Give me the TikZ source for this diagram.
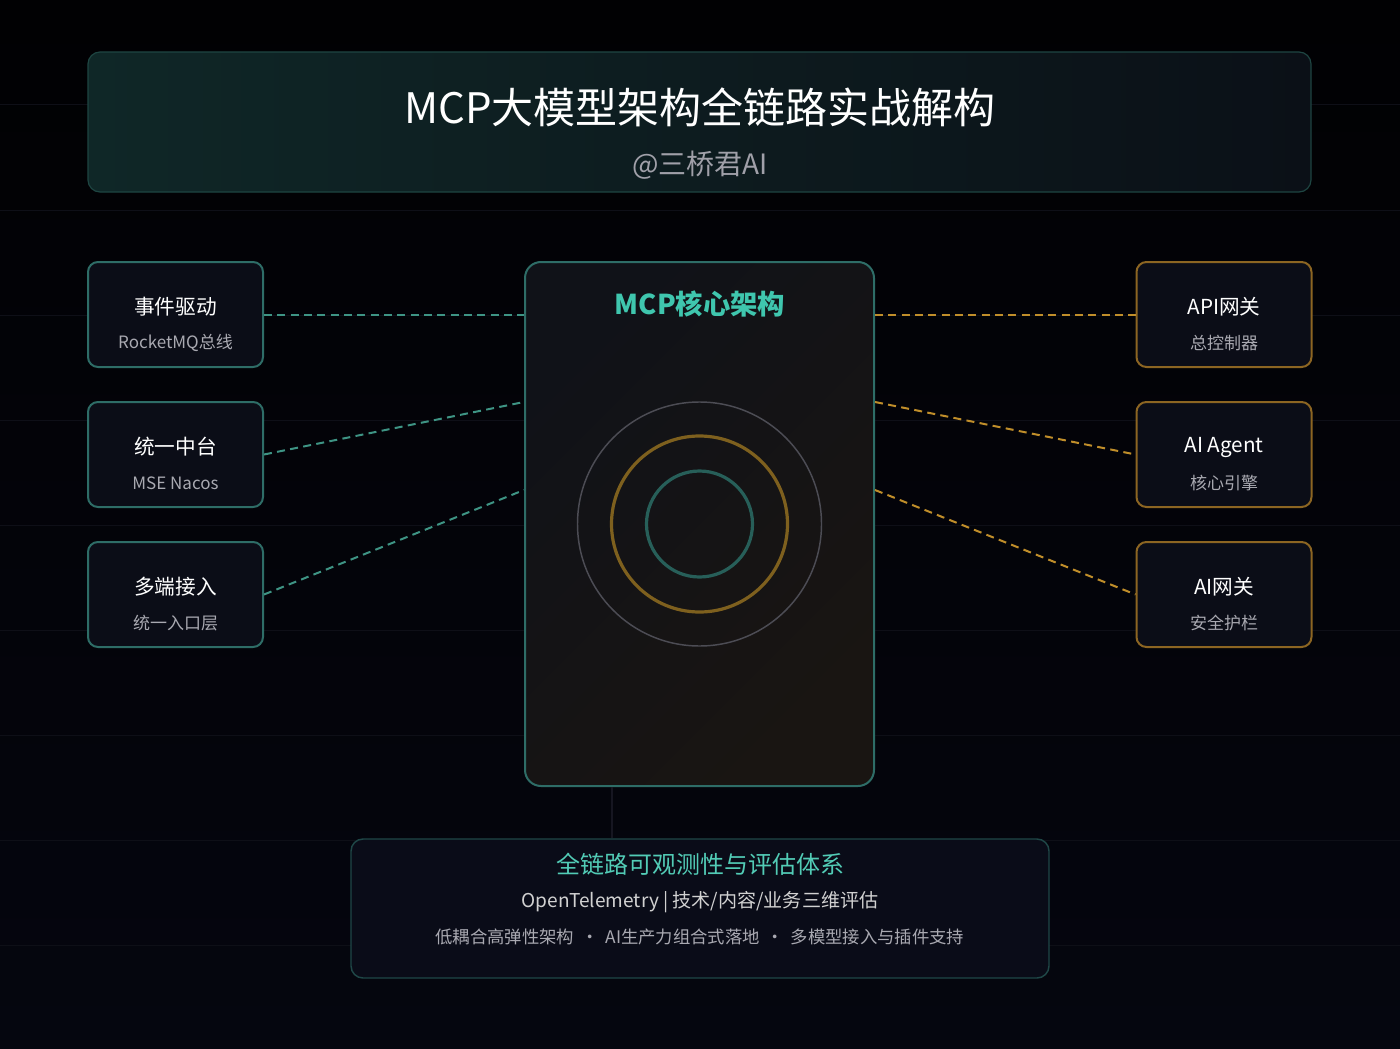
\documentclass[tikz,border=0pt]{standalone}
\usepackage{fontspec}
\setmainfont{Noto Sans CJK SC}
\usetikzlibrary{positioning,calc}
\definecolor{bgtop}{HTML}{010103}
\definecolor{bgbot}{HTML}{05060F}
\definecolor{gridc}{HTML}{0E0F17}
\definecolor{headL}{HTML}{0F2727}
\definecolor{headR}{HTML}{0B1017}
\definecolor{headline}{HTML}{1E4542}
\definecolor{boxfill}{HTML}{0B0D17}
\definecolor{tealline}{HTML}{2E6D67}
\definecolor{tealdashc}{HTML}{3E9484}
\definecolor{amberline}{HTML}{8C6522}
\definecolor{amberdashc}{HTML}{C08E2A}
\definecolor{coreA}{HTML}{101218}
\definecolor{coreB}{HTML}{191512}
\definecolor{coretxt}{HTML}{3FC6AE}
\definecolor{ringgrey}{HTML}{4C4C54}
\definecolor{ringamber}{HTML}{7E601E}
\definecolor{ringteal}{HTML}{275F59}
\definecolor{subgrey}{HTML}{A9A9B1}
\definecolor{obsline}{HTML}{1F4747}
\definecolor{obsfill}{HTML}{0A0C18}
\begin{document}
\begin{tikzpicture}[x=0.75pt,y=-0.75pt,
    sidebox/.style={draw,line width=1.5pt,rounded corners=7.5pt,fill=boxfill,minimum width=131.25pt,minimum height=78.75pt},
    boxtitle/.style={inner sep=0pt,text=white,font=\fontsize{15.5}{18}\selectfont},
    boxsub/.style={inner sep=0pt,text=subgrey,font=\fontsize{12.75}{15}\selectfont},
    tealdash/.style={tealdashc,line width=1.5pt,dash pattern=on 6pt off 4pt},
    amberdash/.style={amberdashc,line width=1.5pt,dash pattern=on 6pt off 4pt}]
    \useasboundingbox (0,0) rectangle (1400,1049);
    \shade[top color=bgtop,bottom color=bgbot] (0,0) rectangle (1400,1049);
    \foreach \y in {105,210,...,945} \draw[gridc,line width=0.75pt] (0,\y) -- (1400,\y);
    % header
    \node[draw=headline,line width=0.9pt,rounded corners=9pt,left color=headL,right color=headR,minimum width=917.25pt,minimum height=105pt](head)at(699.5,122){};
    \node[inner sep=0pt,text=white,font=\fontsize{31.5}{36}\selectfont](title)at(700,107){MCP大模型架构全链路实战解构};
    \node[inner sep=0pt,text=subgrey!110,font=\fontsize{21}{24}\selectfont](author)at(700,165){@三桥君AI};
    % core
    \node[draw=tealline,line width=1.5pt,rounded corners=12pt,top color=coreA,bottom color=coreB,shading angle=45,minimum width=261.75pt,minimum height=393pt](core)at(699.5,524){};
    \node[inner sep=0pt,text=coretxt,font=\bfseries\fontsize{20.5}{24}\selectfont](coretitle)at(700,304){MCP核心架构};
    \draw[ringgrey,line width=1.1pt] (core.center) circle[radius=91.5pt];
    \draw[ringamber,line width=2.4pt] (core.center) circle[radius=66pt];
    \draw[ringteal,line width=2.4pt] (core.center) circle[radius=39.75pt];
    % side boxes
    \foreach \n/\y/\t/\s in {evt/314.5/事件驱动/RocketMQ总线,hub/454.5/统一中台/MSE Nacos,acc/594.5/多端接入/统一入口层}{
        \node[sidebox,draw=tealline](\n)at(175.5,\y){};
        \node[boxtitle](\n-t)at([yshift=5.6pt]\n.center){\t};
        \node[boxsub](\n-s)at([yshift=-21.4pt]\n.center){\s};
    }
    \foreach \n/\y/\t/\s in {api/314.5/API网关/总控制器,agt/454.5/AI Agent/核心引擎,aig/594.5/AI网关/安全护栏}{
        \node[sidebox,draw=amberline](\n)at(1224,\y){};
        \node[boxtitle](\n-t)at([yshift=5.6pt]\n.center){\t};
        \node[boxsub](\n-s)at([yshift=-21.4pt]\n.center){\s};
    }
    \draw[tealdash](evt.east)--(evt.east-|core.west);
    \draw[tealdash](hub.east)--([yshift=91.5pt]core.west);
    \draw[tealdash](acc.east)--([yshift=25.5pt]core.west);
    \draw[amberdash](api.west-|core.east)--(api.west);
    \draw[amberdash]([yshift=91.5pt]core.east)--(agt.west);
    \draw[amberdash]([yshift=25.5pt]core.east)--(aig.west);
    % observability
    \node[draw=obsline,line width=1.1pt,rounded corners=9pt,fill=obsfill,minimum width=523.5pt,minimum height=104.25pt](obs)at(700,908.5){};
    \coordinate(tap)at([xshift=-65.6pt]core.south);
    \draw[ringgrey!130,line width=1.1pt](tap)--(tap|-obs.north);
    \node[inner sep=0pt,text=coretxt!90!white,font=\fontsize{18}{21}\selectfont](obstitle)at(700,864){全链路可观测性与评估体系};
    \node[inner sep=0pt,text=white!82!black,font=\fontsize{14.3}{17}\selectfont](obsline2)at(700,902){OpenTelemetry | 技术/内容/业务三维评估};
    \node[inner sep=0pt,text=subgrey,font=\fontsize{13}{15}\selectfont](obsline3)at(700,937){低耦合高弹性架构\hspace{0.4em}·\hspace{0.4em}AI生产力组合式落地\hspace{0.4em}·\hspace{0.4em}多模型接入与插件支持};
\end{tikzpicture}
\end{document}
